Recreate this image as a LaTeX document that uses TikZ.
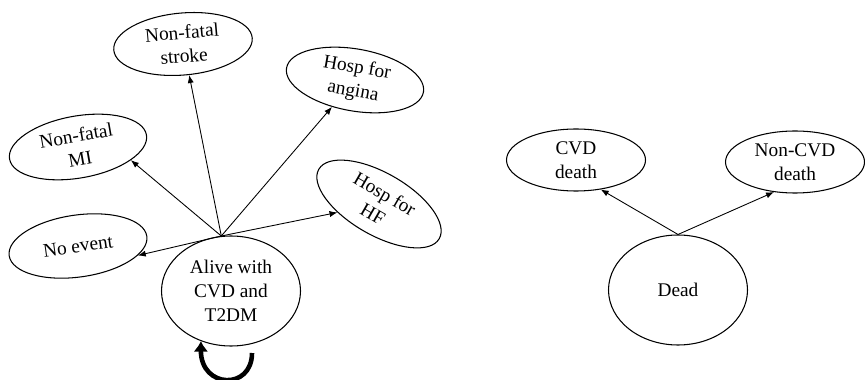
\documentclass[tikz,border=0pt]{standalone}
\usepackage{fontspec}
\setmainfont{Liberation Serif}
\usepackage{tikz}
\usetikzlibrary{shapes.geometric, arrows.meta}

\begin{document}
\begin{tikzpicture}[
        state/.style={ellipse, draw, line width=0.6pt, inner sep=0pt, minimum width=2.78cm, minimum height=1.24cm, align=center, font=\fontsize{11}{13.5}\selectfont},
        bigstate/.style={state, minimum height=2.2cm},
        arrow/.style={-{Latex[length=4.5pt, width=3.5pt]}, line width=0.5pt},
        selfarrow/.style={-{Latex[length=6pt, width=8.5pt]}, line width=2.6pt}
    ]
        \useasboundingbox (0,0) rectangle (17.3,-7.6);

        % alive states
        \node[bigstate] (alive) at (4.62,-5.82) {Alive with\\CVD and\\T2DM};
        \node[state, rotate=8] (noevent) at (1.56,-4.92) {No event};
        \node[state, rotate=10] (mi) at (1.56,-2.94) {Non-fatal\\MI};
        \node[state, rotate=5] (stroke) at (3.66,-0.88) {Non-fatal\\stroke};
        \node[state, rotate=-10] (angina) at (7.10,-1.60) {Hosp for\\angina};
        \node[state, rotate=-30] (hf) at (7.58,-4.08) {Hosp for\\HF};

        % dead states
        \node[bigstate] (dead) at (13.56,-5.80) {Dead};
        \node[state] (cvd) at (11.52,-3.20) {CVD\\death};
        \node[state] (noncvd) at (15.90,-3.24) {Non-CVD\\death};

        \coordinate (hubA) at (alive.100);
        \coordinate (hubD) at (dead.north);
        \coordinate (loopstart) at (5.04,-7.06);

        \draw[arrow] (hubA) -- (noevent.343);
        \draw[arrow] (hubA) -- (mi.336);
        \draw[arrow] (hubA) -- (stroke);
        \draw[arrow] (hubA) -- (angina);
        \draw[arrow] (hubA) -- (hf);
        \draw[selfarrow] (loopstart) .. controls +(0,-0.75) and +(0,-0.95) .. (alive.239);

        \draw[arrow] (hubD) -- (cvd.310);
        \draw[arrow] (hubD) -- (noncvd.235);
    \end{tikzpicture}
\end{document}
